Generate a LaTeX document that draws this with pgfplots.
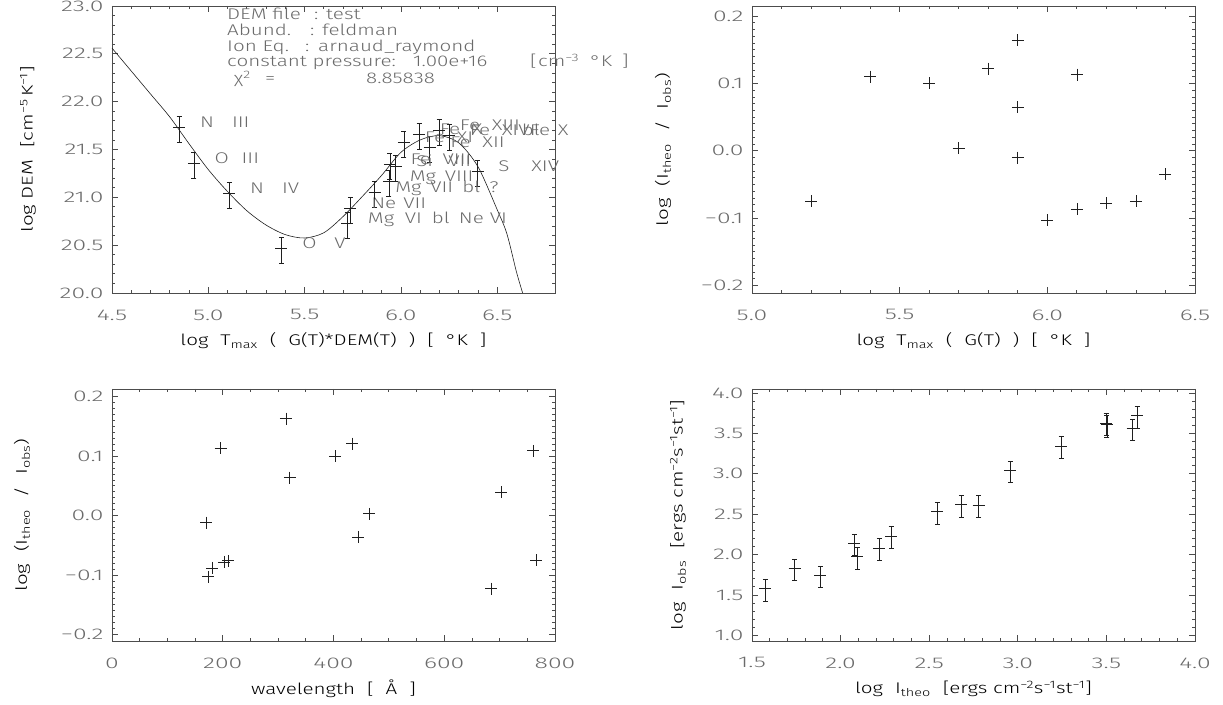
\documentclass[border=0pt]{standalone}
\usepackage{pgfplots}
\pgfplotsset{compat=1.18}
\usepackage{fontspec}
\setmainfont{Fira Sans Light}[FakeStretch=1.33]
\newfontfamily\tickfont{Fira Sans Light}[FakeStretch=1.6]
\definecolor{txt}{gray}{0.42}
\definecolor{ax}{gray}{0.3}
\definecolor{pt}{gray}{0.12}

\newcommand{\tk}[2]{\makebox[#1pt][l]{#2}}
\newcommand{\s}{\hspace{12pt}}
\tikzset{lab/.style={anchor=base west, text=txt, inner sep=0pt}}
\pgfplotsset{
  idl/.style={
    scale only axis, anchor=south west, width=443pt,
    axis line style={ax, line width=0.9pt},
    every tick/.style={ax, line width=0.8pt},
    tick align=inside, major tick length=6pt, minor tick length=3pt,
    font=\fontsize{15.5}{18}\selectfont,
    ticklabel style={text=txt, font=\tickfont\fontsize{15.5}{18}\selectfont},
    label style={text=txt},
    /pgf/number format/assume math mode=true,
    /pgf/number format/fixed, /pgf/number format/fixed zerofill,
    /pgf/number format/precision=1,
    xticklabel style={yshift=-13pt},
    yticklabel style={xshift=-5pt},
    every axis x label/.style={at={(axis description cs:0.5,0)}, anchor=center, yshift=-48pt},
  },
  ylab/.style={every axis y label/.style={at={(axis description cs:0,0.5)}, xshift=-#1pt, rotate=90, anchor=center}},
  errp/.style={only marks, mark=+, mark size=6pt, pt, line width=0.7pt,
    error bars/.cd, y dir=both, y explicit,
    error bar style={pt, line width=0.7pt},
    error mark options={rotate=90, mark size=2.5pt, pt, line width=0.7pt}},
  plus/.style={only marks, mark=+, mark size=6pt, pt, line width=0.7pt},
}

\begin{document}
\begin{tikzpicture}[x=1pt, y=1pt]
\path[use as bounding box] (0pt,0pt) rectangle (1223pt,704pt);

% top left: DEM
\begin{axis}[idl, ylab=84, at={(112pt,411pt)}, height=287pt,
  xmin=4.5, xmax=6.8, ymin=20, ymax=23, clip=false,
  xtick={4.5,5,5.5,6,6.5}, minor x tick num=4,
  ytick={20,20.5,21,21.5,22,22.5,23}, minor y tick num=4,
  xlabel={log\s T\textsubscript{max}\s(\s G(T)*DEM(T)\s)\s[\s °K\s]},
  ylabel={log DEM\s[cm\textsuperscript{−5}\,K\textsuperscript{−1}]}]
\addplot[smooth, pt, line width=0.6pt] coordinates {
 (4.50,22.56) (4.60,22.32) (4.70,22.08) (4.80,21.84) (4.90,21.56) (5.00,21.29)
 (5.10,21.06) (5.20,20.86) (5.30,20.71) (5.40,20.61) (5.50,20.575) (5.60,20.63)
 (5.70,20.80) (5.80,21.01) (5.90,21.23) (6.00,21.47) (6.10,21.60) (6.20,21.645)
 (6.30,21.57) (6.40,21.32) (6.50,20.87) (6.55,20.62) (6.60,20.22) (6.632,20.0)};
\addplot[errp] coordinates {
 (4.849,21.73) += (0,0.115) -= (0,0.155)
 (4.925,21.35) += (0,0.115) -= (0,0.155)
 (5.109,21.04) += (0,0.115) -= (0,0.155)
 (5.380,20.47) += (0,0.115) -= (0,0.155)
 (5.721,20.73) += (0,0.115) -= (0,0.155)
 (5.738,20.88) += (0,0.115) -= (0,0.155)
 (5.863,21.05) += (0,0.115) -= (0,0.155)
 (5.938,21.17) += (0,0.115) -= (0,0.155)
 (5.943,21.34) += (0,0.115) -= (0,0.155)
 (5.972,21.32) += (0,0.115) -= (0,0.155)
 (6.016,21.57) += (0,0.115) -= (0,0.155)
 (6.094,21.66) += (0,0.115) -= (0,0.155)
 (6.149,21.52) += (0,0.115) -= (0,0.155)
 (6.198,21.70) += (0,0.115) -= (0,0.155)
 (6.250,21.65) += (0,0.115) -= (0,0.155)
 (6.398,21.27) += (0,0.115) -= (0,0.155)};
\node[lab] at (axis cs:4.956,21.73) {\tk{32}{N}III};
\node[lab] at (axis cs:5.032,21.35) {\tk{27}{O}III};
\node[lab] at (axis cs:5.216,21.04) {\tk{32}{N}IV};
\node[lab] at (axis cs:5.487,20.47) {\tk{32}{O}V};
\node[lab] at (axis cs:5.828,20.73) {\tk{37}{Mg}\tk{27}{VI}\tk{27}{bl}\tk{31}{Ne}VI};
\node[lab] at (axis cs:5.845,20.88) {\tk{32}{Ne}VII};
\node[lab] at (axis cs:5.970,21.05) {\tk{35}{Mg}\tk{32}{VII}\tk{27}{bl}?};
\node[lab] at (axis cs:6.045,21.17) {\tk{35}{Mg}VIII};
\node[lab] at (axis cs:6.050,21.34) {\tk{32}{Fe}VIII};
\node[lab] at (axis cs:6.079,21.32) {\tk{32}{Si}VII};
\node[lab] at (axis cs:6.123,21.57) {\tk{32}{Fe}XI};
\node[lab] at (axis cs:6.201,21.66) {\tk{32}{Fe}X};
\node[lab] at (axis cs:6.256,21.52) {\tk{32}{Fe}XII};
\node[lab] at (axis cs:6.305,21.70) {\tk{32}{Fe}XIII};
\node[lab] at (axis cs:6.357,21.65) {\tk{32}{Fe}\tk{20}{XIV}\tk{8}{bl}\tk{28}{Fe}X};
\node[lab] at (axis cs:6.505,21.27) {\tk{33}{S}XIV};
\end{axis}

% info text
\begin{scope}[every node/.style={anchor=base west, inner sep=0pt, text=txt, font=\fontsize{15.5}{18}\selectfont}]
\node at (227pt,684pt) {DEM file}; \node at (314pt,684pt) {:}; \node at (326pt,684pt) {test};
\node at (227pt,668pt) {Abund.}; \node at (310pt,668pt) {:}; \node at (322pt,668pt) {feldman};
\node at (227pt,652pt) {Ion Eq.}; \node at (305pt,652pt) {:}; \node at (318pt,652pt) {arnaud\_raymond};
\node at (227pt,637pt) {constant pressure:}; \node at (413pt,637pt) {1.00e+16};
\node at (530pt,637pt) {[}; \node at (538pt,637pt) {cm\textsuperscript{−3}}; \node at (590pt,637pt) {°K}; \node at (622pt,637pt) {]};
\node at (234pt,620pt) {χ\textsuperscript{2}}; \node at (265pt,620pt) {=}; \node at (366pt,620pt) {8.85838};
\end{scope}

% top right: residuals vs T
\begin{axis}[idl, ylab=89, at={(752pt,411pt)}, height=287pt,
  xmin=5, xmax=6.5, ymin=-0.211, ymax=0.215,
  xtick={5,5.5,6,6.5}, minor x tick num=4,
  ytick={-0.2,-0.1,0,0.1,0.2}, yticklabels={−0.2,−0.1,0.0,0.1,0.2}, minor y tick num=9,
  xlabel={log\s T\textsubscript{max}\s(\s G(T)\s)\s[\s °K\s]},
  ylabel={log\s(I\textsubscript{theo}\s/\s I\textsubscript{obs})}]
\addplot[plus] coordinates {
 (5.2,-0.075) (5.4,0.110) (5.6,0.100) (5.7,0.004) (5.8,0.122) (5.9,0.164)
 (5.9,0.065) (5.9,-0.010) (6.0,-0.103) (6.1,0.113) (6.1,-0.087) (6.2,-0.078)
 (6.3,-0.075) (6.4,-0.035)};
\end{axis}

% bottom left: residuals vs wavelength
\begin{axis}[idl, ylab=90, at={(112pt,63pt)}, height=252pt,
  xmin=0, xmax=800, ymin=-0.211, ymax=0.213,
  xtick={0,200,400,600,800}, xticklabels={0,200,400,600,800}, minor x tick num=3,
  ytick={-0.2,-0.1,0,0.1,0.2}, yticklabels={−0.2,−0.1,0.0,0.1,0.2}, minor y tick num=9,
  xlabel={wavelength\s[\s Å\s]},
  ylabel={log\s(I\textsubscript{theo}\s/\s I\textsubscript{obs})}]
\addplot[plus] coordinates {
 (170,-0.012) (174,-0.103) (181,-0.088) (202,-0.078) (210,-0.076) (196,0.113)
 (314,0.163) (321,0.064) (403,0.100) (434,0.121) (445,-0.036) (465,0.003)
 (685,-0.123) (703,0.039) (761,0.109) (766,-0.075)};
\end{axis}

% bottom right: observed vs theoretical
\begin{axis}[idl, ylab=74, at={(752pt,63pt)}, height=252pt,
  xmin=1.5, xmax=4, ymin=0.93, ymax=4.05,
  xtick={1.5,2,2.5,3,3.5,4}, minor x tick num=4,
  ytick={1,1.5,2,2.5,3,3.5,4}, minor y tick num=4,
  xlabel={log\s I\textsubscript{theo}\s[ergs\ cm\textsuperscript{−2}s\textsuperscript{−1}st\textsuperscript{−1}]},
  ylabel={log\s I\textsubscript{obs}\s[ergs\ cm\textsuperscript{−2}s\textsuperscript{−1}st\textsuperscript{−1}]}]
\addplot[errp] coordinates {
 (1.576,1.58) += (0,0.115) -= (0,0.155)
 (1.740,1.83) += (0,0.115) -= (0,0.155)
 (1.886,1.745) += (0,0.115) -= (0,0.155)
 (2.078,2.14) += (0,0.115) -= (0,0.155)
 (2.093,1.975) += (0,0.115) -= (0,0.155)
 (2.219,2.08) += (0,0.115) -= (0,0.155)
 (2.285,2.23) += (0,0.115) -= (0,0.155)
 (2.546,2.53) += (0,0.115) -= (0,0.155)
 (2.681,2.62) += (0,0.115) -= (0,0.155)
 (2.779,2.615) += (0,0.115) -= (0,0.155)
 (2.958,3.045) += (0,0.115) -= (0,0.155)
 (3.244,3.345) += (0,0.115) -= (0,0.155)
 (3.499,3.63) += (0,0.115) -= (0,0.155)
 (3.503,3.61) += (0,0.115) -= (0,0.155)
 (3.648,3.565) += (0,0.115) -= (0,0.155)
 (3.674,3.72) += (0,0.115) -= (0,0.155)};
\end{axis}
\end{tikzpicture}
\end{document}
